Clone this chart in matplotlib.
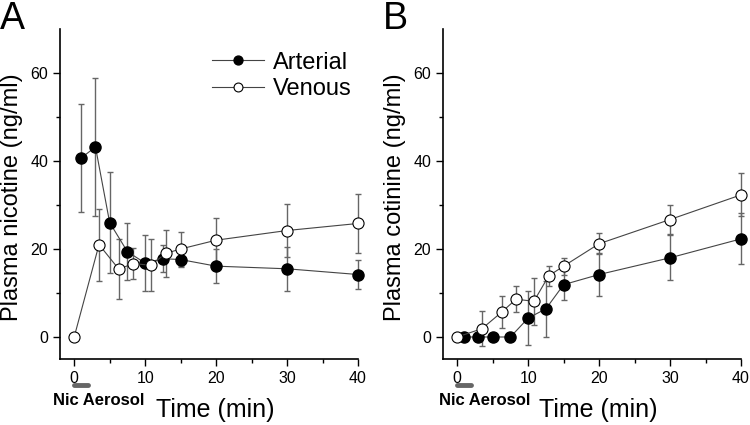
import numpy as np
import matplotlib.pyplot as plt

plt.rcParams['font.family'] = ['Liberation Sans', 'DejaVu Sans']

# Panel A - plasma nicotine
a_art_t = [1, 3, 5, 7.5, 10, 12.5, 15, 20, 30, 40]
a_art_y = [40.7, 43.2, 26.0, 19.4, 16.8, 17.8, 17.6, 16.1, 15.5, 14.2]
a_art_e = [12.3, 15.6, 11.4, 6.4, 6.4, 3.0, 1.8, 3.8, 5.0, 3.4]
a_ven_t = [0, 3.5, 6.3, 8.3, 10.8, 12.9, 15, 20, 30, 40]
a_ven_y = [0, 21.0, 15.4, 16.7, 16.3, 19.0, 20.0, 22.0, 24.2, 25.8]
a_ven_e = [0, 8.2, 6.8, 3.5, 5.9, 5.3, 3.8, 5.0, 6.0, 6.7]

# Panel B - plasma cotinine
b_art_t = [1, 3, 5, 7.5, 10, 12.5, 15, 20, 30, 40]
b_art_y = [0, 0, 0, 0, 4.3, 6.4, 11.9, 14.2, 18.0, 22.3]
b_art_e = [0, 0, 0, 0, 6.1, 6.4, 3.6, 4.9, 5.1, 5.8]
b_ven_t = [0, 3.5, 6.3, 8.3, 10.8, 12.9, 15, 20, 30, 40]
b_ven_y = [0, 1.9, 5.7, 8.6, 8.1, 13.9, 16.1, 21.2, 26.7, 32.3]
b_ven_e = [0, 3.9, 3.6, 3.0, 5.4, 2.3, 1.9, 2.4, 3.4, 4.9]

panels = [
    ('A', 'Plasma nicotine (ng/ml)', a_art_t, a_art_y, a_art_e, a_ven_t, a_ven_y, a_ven_e),
    ('B', 'Plasma cotinine (ng/ml)', b_art_t, b_art_y, b_art_e, b_ven_t, b_ven_y, b_ven_e),
]

fig = plt.figure(figsize=(7.5, 4.25), dpi=100)
lefts = [0.080, 0.5907]
width = 0.3973
bottom, top = 0.1553, 0.9318

for i, (tag, ylab, at, ay, ae, vt, vy, ve) in enumerate(panels):
    ax = fig.add_axes([lefts[i], bottom, width, top - bottom])

    ax.errorbar(at, ay, yerr=ae, fmt='none', ecolor='#666666', elinewidth=1.0,
                capsize=2.5, capthick=1.0, clip_on=False, zorder=2)
    ax.errorbar(vt, vy, yerr=ve, fmt='none', ecolor='#666666', elinewidth=1.0,
                capsize=2.5, capthick=1.0, clip_on=False, zorder=2)
    ax.plot(at, ay, '-o', color='#444444', lw=0.8, ms=8, mfc='black', mec='black',
            label='Arterial', clip_on=False, zorder=3)
    ax.plot(vt, vy, '-o', color='#444444', lw=0.8, ms=8, mfc='white', mec='black',
            mew=0.8, label='Venous', clip_on=False, zorder=4)

    ax.set_xlim(-2, 40)
    ax.set_ylim(-5, 70)
    ax.set_xticks([0, 10, 20, 30, 40])
    ax.set_xticks([5, 15, 25, 35], minor=True)
    ax.set_yticks([0, 20, 40, 60])
    ax.set_yticks([10, 30, 50], minor=True)
    ax.tick_params(which='major', direction='out', length=5, width=1, labelsize=11.5)
    ax.tick_params(which='minor', direction='out', length=3, width=1)
    for s in ['top', 'right']:
        ax.spines[s].set_visible(False)
    for s in ['left', 'bottom']:
        ax.spines[s].set_linewidth(1.2)

    ax.set_ylabel(ylab, fontsize=17)
    ax.yaxis.set_label_coords(-0.125, 0.49)
    ax.text(0.52, -0.155, 'Time (min)', transform=ax.transAxes, fontsize=18,
            ha='center', va='center')

    # aerosol exposure bar
    trans = ax.get_xaxis_transform()
    ax.plot([0, 2], [-0.078, -0.078], transform=trans, color='#666666', lw=3.5,
            solid_capstyle='round', clip_on=False)
    ax.text(-0.025 + 0.01 * i, -0.127, 'Nic Aerosol', transform=ax.transAxes,
            fontsize=12, fontweight='bold', ha='left', va='center')

    fig.text(lefts[i] - 0.08, 0.998, tag, fontsize=27, ha='left', va='top')

    if i == 0:
        ax.legend(loc='upper left', bbox_to_anchor=(0.48, 0.96), frameon=False,
                  fontsize=17, handlelength=2.2, handletextpad=0.35,
                  labelspacing=0.2, borderaxespad=0, markerscale=0.8)

fig.savefig('out.png', dpi=100)
